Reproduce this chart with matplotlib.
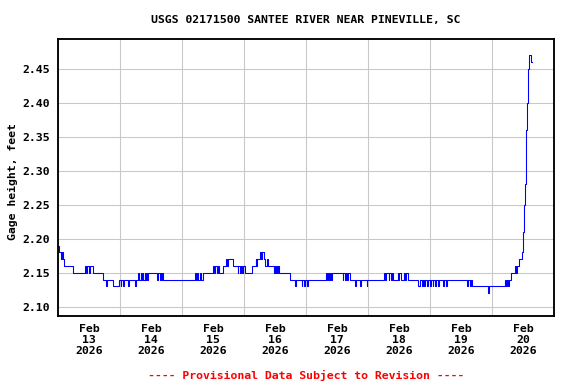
import matplotlib
matplotlib.use("Agg")
import matplotlib.pyplot as plt
import matplotlib.dates as mdates
import pandas as pd

# Gage height readings, stored as change points: hours after Feb 13 2026 00:00 and stage in feet.
start = pd.Timestamp("2026-02-13 00:00")
hours = [
    0.0, 0.5, 1.0, 1.6, 1.9, 2.4, 5.7, 10.6, 11.0, 11.3, 11.9, 12.2, 13.4, 17.5, 18.5, 18.9,
    21.2, 23.5, 24.2, 24.5, 25.3, 25.6, 27.0, 27.3, 29.7, 30.3, 30.9, 31.2, 32.0, 32.3, 32.6,
    32.9, 33.5, 33.8, 34.1, 34.4, 34.8, 38.4, 38.7, 39.4, 39.7, 40.0, 40.3, 40.6,
    53.0, 53.3, 53.8, 54.2, 55.0, 55.3, 56.0, 60.0, 60.3, 60.6, 61.4, 61.8, 62.2, 64.0,
    65.0, 65.6, 65.9, 67.9, 69.5, 69.8, 70.5, 70.8, 71.1,
    71.8, 72.3, 75.1, 76.5, 76.8, 77.2, 78.3, 78.6, 78.9, 79.6, 80.3, 80.8, 81.3, 83.5,
    83.8, 84.1, 84.4, 84.8, 85.1, 85.5, 89.9, 91.8, 92.1, 94.3, 94.6, 95.2, 95.6,
    96.2, 96.8, 103.7, 104.0, 104.5, 104.8, 105.3, 105.6, 106.0, 110.2, 110.5, 111.0,
    111.3, 112.0, 112.3, 113.0, 115.0, 115.3, 117.0, 117.3, 119.5, 119.8,
    126.3, 126.6, 127.0, 128.0, 128.3, 129.0, 129.3, 129.6, 131.5, 131.8, 132.1, 132.8,
    134.0, 134.3, 134.9, 135.3, 139.5, 140.2, 140.8, 141.3, 141.8, 142.2, 143.0, 143.3,
    144.0, 144.4, 145.0, 145.3, 146.0, 146.4, 147.2, 147.5, 149.0, 149.3, 150.0, 150.4,
    158.4, 158.7, 159.5, 159.8, 160.2, 166.5, 166.8, 173.0, 173.3, 173.7, 174.0, 174.4,
    175.2, 176.9, 177.2, 177.5, 178.6, 179.7, 180.1, 180.5, 180.9, 181.3, 181.7, 182.1,
    182.4, 183.0, 183.3,
]
stage = [
    2.19, 2.18, 2.17, 2.18, 2.17, 2.16, 2.15, 2.16, 2.15, 2.16, 2.15, 2.16, 2.15, 2.14, 2.13, 2.14,
    2.13, 2.14, 2.13, 2.14, 2.13, 2.14, 2.13, 2.14, 2.13, 2.14, 2.15, 2.14, 2.15, 2.14, 2.15,
    2.14, 2.15, 2.14, 2.15, 2.14, 2.15, 2.14, 2.15, 2.14, 2.15, 2.14, 2.15, 2.14,
    2.15, 2.14, 2.15, 2.14, 2.15, 2.14, 2.15, 2.16, 2.15, 2.16, 2.15, 2.16, 2.15, 2.16,
    2.17, 2.16, 2.17, 2.16, 2.15, 2.16, 2.15, 2.16, 2.15,
    2.16, 2.15, 2.16, 2.17, 2.16, 2.17, 2.18, 2.17, 2.18, 2.17, 2.16, 2.17, 2.16, 2.15,
    2.16, 2.15, 2.16, 2.15, 2.16, 2.15, 2.14, 2.13, 2.14, 2.13, 2.14, 2.13, 2.14,
    2.13, 2.14, 2.15, 2.14, 2.15, 2.14, 2.15, 2.14, 2.15, 2.14, 2.15, 2.14,
    2.15, 2.14, 2.15, 2.14, 2.13, 2.14, 2.13, 2.14, 2.13, 2.14,
    2.15, 2.14, 2.15, 2.14, 2.15, 2.14, 2.15, 2.14, 2.15, 2.14, 2.15, 2.14,
    2.15, 2.14, 2.15, 2.14, 2.13, 2.14, 2.13, 2.14, 2.13, 2.14, 2.13, 2.14,
    2.13, 2.14, 2.13, 2.14, 2.13, 2.14, 2.13, 2.14, 2.13, 2.14, 2.13, 2.14,
    2.13, 2.14, 2.13, 2.14, 2.13, 2.12, 2.13, 2.14, 2.13, 2.14, 2.13, 2.14,
    2.15, 2.16, 2.15, 2.16, 2.17, 2.18, 2.21, 2.25, 2.28, 2.36, 2.40, 2.45,
    2.47, 2.46, 2.46,
]
y_ticks = [2.10, 2.15, 2.20, 2.25, 2.30, 2.35, 2.40, 2.45]

title = "USGS 02171500 SANTEE RIVER NEAR PINEVILLE, SC"
footer = "---- Provisional Data Subject to Revision ----"

times = start + pd.to_timedelta(hours, unit="h")

font = {"family": "DejaVu Sans Mono", "weight": "bold", "size": 8.6}

fig = plt.figure(figsize=(6, 4), dpi=96)
ax = fig.add_axes([58 / 576, 1 - 316 / 384, 496 / 576, 277 / 384])

ax.plot(times, stage, color="#0000ff", linewidth=0.8, drawstyle="steps-post")

ax.set_xlim(start, start + pd.Timedelta(days=8))
ax.set_ylim(2.0863, 2.4943)
ax.set_yticks(y_ticks)
ax.set_yticklabels([f"{v:.2f}" for v in y_ticks], fontdict=font)

# gridlines at midnight, labels at noon
ax.xaxis.set_major_locator(mdates.DayLocator())
ax.xaxis.set_major_formatter(plt.NullFormatter())
ax.xaxis.set_minor_locator(mdates.HourLocator(byhour=12))
ax.xaxis.set_minor_formatter(mdates.DateFormatter("%b\n%d\n%Y"))
for lab in ax.xaxis.get_minorticklabels():
    lab.set_fontproperties(font)
ax.tick_params(axis="x", which="both", length=0, pad=6)
ax.tick_params(axis="y", length=0, pad=6)
for lab in ax.get_xticklabels(minor=True):
    lab.set_linespacing(1.1)

ax.grid(True, which="major", color="#c8c8c8", linewidth=0.8)
ax.set_axisbelow(True)
for sp in ax.spines.values():
    sp.set_linewidth(1.4)
    sp.set_color("black")

fig.text(306 / 576, 1 - 20 / 384, title, ha="center", va="center", fontdict=font)
fig.text(306 / 576, 1 - 375 / 384, footer, ha="center", va="center", color="#ff0000", fontdict=font)
fig.text(13 / 576, 1 - 182 / 384, "Gage height, feet", ha="center", va="center",
         rotation=90, fontdict=font)

fig.savefig("out.png", dpi=96)
